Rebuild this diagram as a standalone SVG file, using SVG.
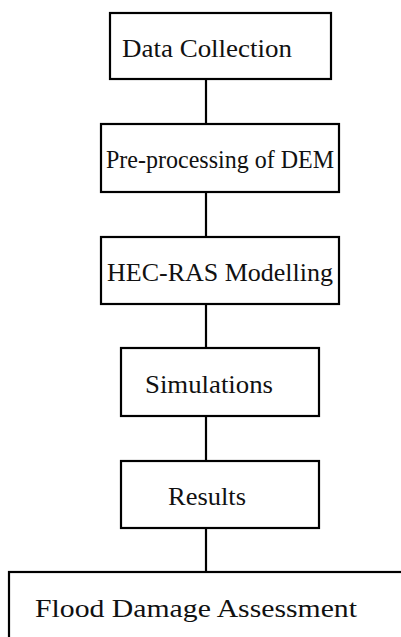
<svg xmlns="http://www.w3.org/2000/svg" width="401" height="637" viewBox="0 0 401 637">
<style>
.box{fill:#fff;stroke:#000;stroke-width:2.2}
.lbl{font-family:"Liberation Serif","DejaVu Serif",serif;font-size:26px;fill:#111;text-anchor:middle}
.conn line{stroke:#000;stroke-width:2.2}
</style>
<rect width="401" height="637" fill="#fff"/>
<g id="connectors" class="conn">
<line x1="206" y1="79" x2="206" y2="124"/>
<line x1="206" y1="192" x2="206" y2="237"/>
<line x1="206" y1="304" x2="206" y2="348"/>
<line x1="206" y1="416" x2="206" y2="461"/>
<line x1="206" y1="528" x2="206" y2="572"/>
</g>
<g id="n1"><rect class="box" x="110" y="13" width="221" height="66"/><text class="lbl" x="207" y="57" textLength="170" lengthAdjust="spacingAndGlyphs">Data Collection</text></g>
<g id="n2"><rect class="box" x="101" y="124" width="238" height="68"/><text class="lbl" x="220" y="168" textLength="228" lengthAdjust="spacingAndGlyphs">Pre-processing of DEM</text></g>
<g id="n3"><rect class="box" x="101" y="237" width="238" height="67"/><text class="lbl" x="220" y="281" textLength="226" lengthAdjust="spacingAndGlyphs">HEC-RAS Modelling</text></g>
<g id="n4"><rect class="box" x="121" y="348" width="198" height="68"/><text class="lbl" x="209" y="393" textLength="128" lengthAdjust="spacingAndGlyphs">Simulations</text></g>
<g id="n5"><rect class="box" x="121" y="461" width="198" height="67"/><text class="lbl" x="207" y="505" textLength="78" lengthAdjust="spacingAndGlyphs">Results</text></g>
<g id="n6"><rect class="box" x="9" y="572" width="410" height="90"/><text class="lbl" x="196" y="617" textLength="322" lengthAdjust="spacingAndGlyphs">Flood Damage Assessment</text></g>
</svg>
